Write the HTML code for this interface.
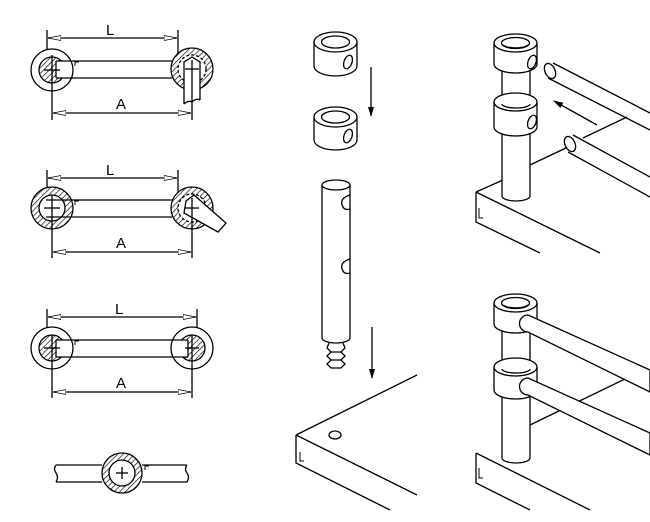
<!DOCTYPE html>
<html><head><meta charset="utf-8"><style>
html,body{margin:0;padding:0;background:#fff;}
svg{display:block;}
text{font-family:"Liberation Sans",sans-serif;font-size:15px;fill:#000;}
</style></head><body>
<svg width="650" height="522" viewBox="0 0 650 522" xmlns="http://www.w3.org/2000/svg">
<defs>
<pattern id="h" width="4" height="4" patternUnits="userSpaceOnUse" patternTransform="rotate(45)">
<rect width="4" height="4" fill="#fff"/><line x1="0" y1="0" x2="0" y2="4" stroke="#000" stroke-width="1.3"/>
</pattern>
<marker id="ar" markerWidth="10" markerHeight="10" refX="9" refY="5" orient="auto" markerUnits="userSpaceOnUse"><path d="M0,2 L10,5 L0,8 Z" fill="#000"/></marker>
<marker id="da" markerWidth="14" markerHeight="8" refX="13" refY="4" orient="auto-start-reverse" markerUnits="userSpaceOnUse"><path d="M0,1.5 L13,4 L0,6.5 Z" fill="#fff" stroke="#000" stroke-width="0.8"/></marker>
</defs>
<g fill="none" stroke="#000" stroke-width="1.3">

<!-- Diagram 1 -->
<line x1="47" y1="30" x2="47" y2="65"/><line x1="178" y1="30" x2="178" y2="65"/>
<line x1="48" y1="38" x2="177" y2="38" marker-end="url(#da)" marker-start="url(#da)"/>
<circle cx="52" cy="70" r="21" fill="#fff"/>
<circle cx="52" cy="70" r="13" fill="url(#h)"/>
<rect x="56" y="61.5" width="10" height="16" fill="#fff" stroke="none"/>
<line x1="56" y1="61" x2="172" y2="61"/><line x1="56" y1="78" x2="172" y2="78"/>
<line x1="56" y1="61" x2="56" y2="78"/>
<circle cx="192" cy="69" r="21" fill="url(#h)"/>
<circle cx="192" cy="69" r="14" fill="#fff" stroke-dasharray="3,2"/>
<path d="M184,104 V62 L192,57 L200,62 V100" fill="#fff"/>
<path d="M184,104 q4,-4 8,-2 q4,-4 8,-2"/>
<line x1="52" y1="55" x2="52" y2="120"/><line x1="192" y1="60" x2="192" y2="120"/>
<line x1="44" y1="70" x2="60" y2="70"/><line x1="185" y1="69" x2="199" y2="69"/>
<line x1="53" y1="113" x2="191" y2="113" marker-end="url(#da)" marker-start="url(#da)"/>
<path d="M75,66 v-4 h4" stroke-width="1"/>

<!-- Diagram 2 -->
<line x1="47" y1="170" x2="47" y2="205"/><line x1="178" y1="170" x2="178" y2="205"/>
<line x1="48" y1="178" x2="177" y2="178" marker-end="url(#da)" marker-start="url(#da)"/>
<circle cx="52" cy="208" r="21" fill="url(#h)"/>
<circle cx="52" cy="208" r="13" fill="#fff"/>
<line x1="56" y1="200" x2="172" y2="200"/><line x1="56" y1="217" x2="172" y2="217"/>
<path d="M46,200 L56,200 M46,217 L56,217" />
<circle cx="192" cy="208" r="21" fill="url(#h)"/>
<circle cx="192" cy="208" r="14" fill="#fff" stroke-dasharray="3,2"/>
<path d="M186,201 L194,195 L226,223 L218,232 L184,213 Z" fill="#fff"/>
<line x1="52" y1="195" x2="52" y2="258"/><line x1="192" y1="198" x2="192" y2="258"/>
<line x1="44" y1="208" x2="60" y2="208"/><line x1="185" y1="208" x2="199" y2="208"/>
<line x1="53" y1="252" x2="191" y2="252" marker-end="url(#da)" marker-start="url(#da)"/>
<path d="M75,205 v-4 h4" stroke-width="1"/>

<!-- Diagram 3 -->
<line x1="47" y1="309" x2="47" y2="345"/><line x1="197" y1="309" x2="197" y2="345"/>
<line x1="48" y1="317" x2="196" y2="317" marker-end="url(#da)" marker-start="url(#da)"/>
<circle cx="52" cy="348" r="21" fill="#fff"/>
<circle cx="52" cy="348" r="13" fill="url(#h)"/>
<rect x="56" y="340.5" width="10" height="16" fill="#fff" stroke="none"/>
<circle cx="192" cy="348" r="21" fill="#fff"/>
<circle cx="192" cy="348" r="13" fill="url(#h)"/>
<rect x="178" y="340.5" width="10" height="16" fill="#fff" stroke="none"/>
<line x1="56" y1="340" x2="188" y2="340"/><line x1="56" y1="357" x2="188" y2="357"/>
<line x1="56" y1="340" x2="56" y2="357"/><line x1="188" y1="340" x2="188" y2="357"/>
<line x1="52" y1="335" x2="52" y2="398"/><line x1="192" y1="335" x2="192" y2="398"/>
<line x1="44" y1="348" x2="60" y2="348"/><line x1="185" y1="348" x2="199" y2="348"/>
<line x1="53" y1="392" x2="191" y2="392" marker-end="url(#da)" marker-start="url(#da)"/>
<path d="M75,345 v-4 h4" stroke-width="1"/>

<!-- Diagram 4 -->
<path d="M56,465 H102 M142,465 H187 M56,482 H102 M142,482 H187"/>
<path d="M56,465 q-3,4 0,8 q3,4 0,9 M187,465 q-3,4 0,8 q3,4 0,9"/>
<circle cx="122" cy="473" r="20" fill="url(#h)"/>
<circle cx="122" cy="473" r="13" fill="#fff"/>
<line x1="116" y1="473" x2="128" y2="473"/><line x1="122" y1="467" x2="122" y2="479"/>
<path d="M145,470 v-4 h4" stroke-width="1"/>

<!-- Middle collars -->
<g>
<path d="M314,42 V66 A21.5,10 0 0 0 357,66 V42" fill="#fff"/>
<ellipse cx="335.5" cy="42" rx="21.5" ry="10" fill="#fff"/>
<ellipse cx="335.5" cy="42" rx="14" ry="6"/>
<ellipse cx="348" cy="62" rx="4" ry="7" transform="rotate(20 348 62)"/>
</g>
<g>
<path d="M314,117 V140 A21.5,10 0 0 0 357,140 V117" fill="#fff"/>
<ellipse cx="335.5" cy="117" rx="21.5" ry="10" fill="#fff"/>
<ellipse cx="335.5" cy="117" rx="14" ry="6"/>
<ellipse cx="348" cy="136" rx="4" ry="7" transform="rotate(20 348 136)"/>
</g>
<line x1="371" y1="67" x2="371" y2="116" marker-end="url(#ar)"/>

<!-- Pin -->
<path d="M322,185 V338 A14,5 0 0 0 350,338 V185"/>
<ellipse cx="336" cy="185" rx="14" ry="5" fill="#fff"/>
<path d="M350,195 q-10,3 -8,10 q2,6 8,4"/>
<path d="M350,259 q-10,3 -8,10 q2,6 8,4"/>
<path d="M329,343 L327,348 L331,352 L327,356 L331,360 L327,364 L331,368 H341 L345,364 L341,360 L345,356 L341,352 L345,348 L343,343"/>
<path d="M331,352 H341 M331,360 H341"/>
<line x1="372" y1="327" x2="372" y2="378" marker-end="url(#ar)"/>

<!-- Middle plate -->
<path d="M296,435 L417,375"/>
<path d="M296,435 L417,495"/>
<path d="M296,435 V463 L390,510"/>
<path d="M300,452 v9 h4" stroke-width="1"/>
<ellipse cx="335" cy="435" rx="6" ry="4"/>

<!-- Right top -->
<path d="M476,192 L503,180 M530,165 L568,147 M583,138 L627,117"/>
<path d="M476,192 L600,253"/>
<path d="M476,192 V222 L540,253"/>
<path d="M479,208 v10 h4" stroke-width="1"/>
<path d="M553,63 L650,113 M548,78 L650,130"/>
<ellipse cx="550" cy="71" rx="5" ry="8" transform="rotate(-25 550 71)" fill="#fff"/>
<path d="M573,135 L650,177 M568,152 L650,197"/>
<ellipse cx="570" cy="144" rx="5" ry="8" transform="rotate(-25 570 144)" fill="#fff"/>
<line x1="597" y1="125" x2="554" y2="101" marker-end="url(#ar)"/>
<path d="M502,60 V196 A14,5 0 0 0 530,196 V60" fill="#fff"/>
<path d="M494,102 V127 A21.5,9 0 0 0 537,127 V102" fill="#fff"/>
<ellipse cx="515.5" cy="102" rx="21.5" ry="9" fill="#fff"/>
<path d="M502,104 A14,4 0 0 0 530,104"/>
<ellipse cx="532" cy="122" rx="4" ry="7" transform="rotate(20 532 122)"/>
<path d="M494,43 V64 A21.5,9 0 0 0 537,64 V43" fill="#fff"/>
<ellipse cx="515.5" cy="43" rx="21.5" ry="9" fill="#fff"/>
<ellipse cx="515.5" cy="43" rx="14" ry="5.5"/>
<path d="M503,45 A13,4 0 0 0 528,45"/>
<ellipse cx="532" cy="62" rx="4" ry="7" transform="rotate(20 532 62)"/>

<!-- Right bottom -->
<path d="M530,425 L627,378"/>
<path d="M476,453 L590,510"/>
<path d="M476,453 V483 L530,510"/>
<path d="M479,468 v10 h4" stroke-width="1"/>
<path d="M502,320 V458 A14,5 0 0 0 530,458 V320" fill="#fff"/>
<path d="M494,367 V390 A21.5,9 0 0 0 537,390 V367" fill="#fff"/>
<ellipse cx="515.5" cy="367" rx="21.5" ry="9" fill="#fff"/>
<path d="M502,369 A14,4 0 0 0 530,369"/>
<path d="M494,303 V324 A21.5,9 0 0 0 537,324 V303" fill="#fff"/>
<ellipse cx="515.5" cy="303" rx="21.5" ry="9" fill="#fff"/>
<ellipse cx="515.5" cy="303" rx="14" ry="5.5"/>
<path d="M503,305 A13,4 0 0 0 528,305"/>
<path d="M528,315 L650,370 L650,392 L528,332 A8,8 0 0 1 528,315 Z" fill="#fff"/>
<path d="M528,378 L650,433 L650,455 L528,395 A8,8 0 0 1 528,378 Z" fill="#fff"/>
</g>
<text x="106" y="35">L</text>
<text x="116" y="109">A</text>
<text x="106" y="175">L</text>
<text x="116" y="248">A</text>
<text x="115" y="314">L</text>
<text x="116" y="388">A</text>
</svg>
</body></html>
